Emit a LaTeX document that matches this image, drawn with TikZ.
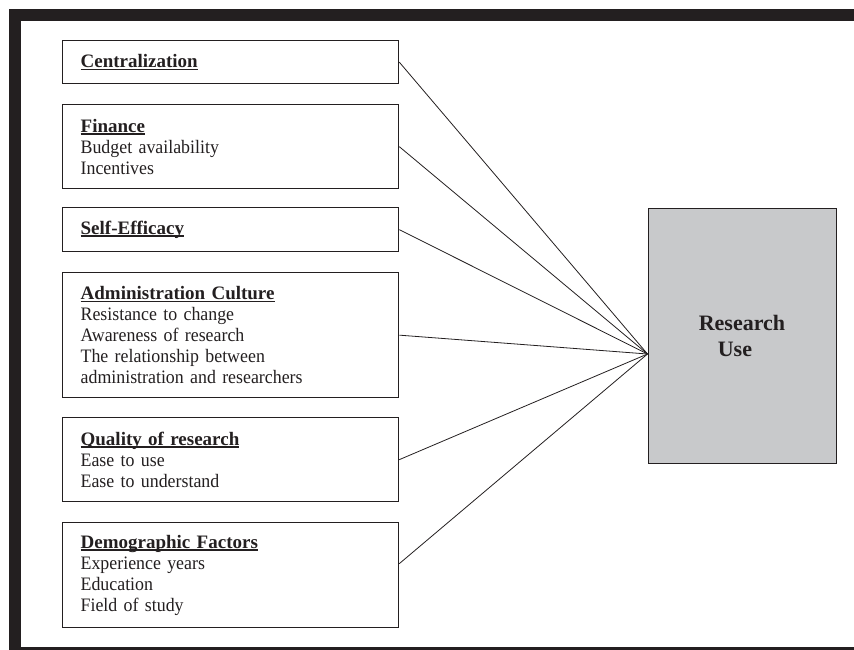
\documentclass[tikz,border=0pt]{standalone}
\usepackage{fontspec}
\setmainfont{Liberation Serif}[UprightFeatures={FakeStretch=0.94}]
\usetikzlibrary{positioning}
\definecolor{inkblack}{HTML}{231F20}
\definecolor{usegray}{HTML}{C8C9CB}
\tikzset{
   factorbox/.style={
     draw=inkblack, line width=1.3pt, anchor=north west,
     text width=300pt, inner xsep=18pt, inner ysep=0pt, align=left,
     font=\fontsize{19}{21}\selectfont, text=inkblack
   },
   outcomebox/.style={
     draw=inkblack, fill=usegray, line width=1pt,
     minimum width=188pt, minimum height=255pt,
     align=left, font=\fontsize{22}{26}\selectfont\bfseries, text=inkblack
   },
   frameline/.style={fill=inkblack},
   linkline/.style={draw=inkblack, line width=0.8pt}
}
\newcommand{\heading}[1]{\textbf{\setbox0\hbox{#1}\rlap{\rule[-2.6pt]{\wd0}{1.4pt}}\box0}}

\begin{document}
\begin{tikzpicture}[x=1pt,y=-1pt]
   \useasboundingbox (0,0) rectangle (854,650);
   % heavy frame
   \fill[frameline] (9,9) rectangle (854,21);
   \fill[frameline] (9,9) rectangle (21,650);
   \fill[frameline] (9,647) rectangle (854,650);

   \node[factorbox, minimum height=43pt](central) at (62,40) {\heading{Centralization}};
   \node[factorbox, minimum height=84pt](finance) at (62,104) {\heading{Finance}\\Budget availability\\Incentives};
   \node[factorbox, minimum height=44pt](efficacy) at (62,207) {\heading{Self-Efficacy}};
   \node[factorbox, minimum height=125pt](culture) at (62,272) {\heading{Administration Culture}\\Resistance to change\\Awareness of research\\The relationship between\\administration and researchers};
   \node[factorbox, minimum height=84pt](quality) at (62,417) {\heading{Quality of research}\\Ease to use\\Ease to understand};
   \node[factorbox, minimum height=105pt](demo) at (62,522) {\heading{Demographic Factors}\\Experience years\\Education\\Field of study};

   \node[outcomebox](use) at (742,335.5) {Research\\\hspace*{19pt}Use};
   \coordinate (hub) at ([yshift=-18.5pt]use.west);

   \draw[linkline] (central.east) -- (hub);
   \draw[linkline] (finance.east) -- (hub);
   \draw[linkline] (efficacy.east) -- (hub);
   \draw[linkline] (culture.east) -- (hub);
   \draw[linkline] (quality.east) -- (hub);
   \draw[linkline] ([yshift=11.5pt]demo.east) -- (hub);
\end{tikzpicture}
\end{document}
